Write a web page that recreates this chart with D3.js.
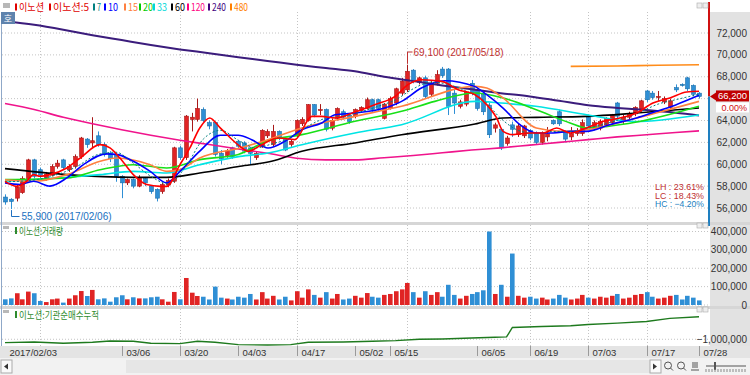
<!DOCTYPE html>
<html>
<head>
<meta charset="utf-8">
<script src="https://cdnjs.cloudflare.com/ajax/libs/d3/7.8.5/d3.min.js"></script>
<style>
  body { margin: 0; background: #fff; }
  svg { display: block; }
  text { font-family: "Liberation Sans", Arial, sans-serif; }
  .kr { font-family: "Noto Sans CJK KR", sans-serif; }
</style>
</head>
<body>
<div id="chart"></div>
<script>
// trading days (2017)
const dates = [
  "02/03","02/06","02/07","02/08","02/09","02/10","02/13","02/14","02/15","02/16","02/17","02/20","02/21","02/22","02/23","02/24","02/27","02/28",
  "03/02","03/03","03/06","03/07","03/08","03/09","03/10","03/13","03/14","03/15","03/16","03/17","03/20","03/21","03/22","03/23","03/24","03/27","03/28","03/29","03/30","03/31",
  "04/03","04/04","04/05","04/06","04/07","04/10","04/11","04/12","04/13","04/14","04/17","04/18","04/19","04/20","04/21","04/24","04/25","04/26","04/27","04/28",
  "05/02","05/04","05/08","05/10","05/11","05/12","05/15","05/16","05/17","05/18","05/19","05/22","05/23","05/24","05/25","05/26","05/29","05/30","05/31",
  "06/01","06/02","06/05","06/07","06/08","06/09","06/12","06/13","06/14","06/15","06/16","06/19","06/20","06/21","06/22","06/23","06/26","06/27","06/28","06/29","06/30",
  "07/03","07/04","07/05","07/06","07/07","07/10","07/11","07/12","07/13","07/14","07/17","07/18","07/19","07/20","07/21","07/24","07/25","07/26","07/27","07/28"
];

// OHLC
const opens = [57000,56800,56900,57400,58500,60400,59500,58700,59000,59800,60400,59500,59800,60700,62300,61950,62600,61800,61000,60900,
  58900,58300,58600,58000,58700,58000,57700,57500,58100,58450,61500,60600,64100,64100,65000,63800,63800,61000,60800,61500,
  62100,61950,61500,60600,61600,62600,61800,63000,62300,61800,62600,63700,64000,65450,64900,65000,63300,64200,64800,64500,
  64400,64900,65100,65900,65900,64200,65100,65600,66500,66800,68600,67500,67900,66400,67400,68700,68700,66500,65300,65500,
  67400,66800,66400,65400,63300,63200,61900,63600,62700,62600,63100,62800,62000,62500,64000,64800,63000,62500,62800,62800,
  64300,63300,63300,63600,63800,65600,63900,64300,64600,65000,66700,66500,66100,65700,65200,67000,67300,67900,67200,66500];
const highs = [57250,56900,58100,58900,60500,60500,59700,59300,60000,60400,60500,60000,60900,62500,62400,64300,63000,62000,61200,61000,
  59000,58700,58700,59000,58800,58100,57800,58300,58700,61600,61700,64500,64700,66000,65200,64000,63900,61300,61400,61600,
  62200,62100,61600,61200,63200,63200,63600,63100,62400,62300,64100,64300,65500,65500,65500,65100,64200,65200,65000,64600,
  65100,65300,66100,66000,66000,65600,66200,67000,67900,69100,68700,68000,68100,67600,68600,68900,68800,66800,65900,66700,
  67700,67000,66500,65600,63800,63300,62600,63900,63700,63600,63200,63000,63000,63400,64100,65000,63100,63400,63300,64100,
  64400,64000,64100,64300,64600,65700,64500,64800,65300,65900,66800,66700,66700,66200,66000,67300,67400,68000,67300,66600];
const lows = [56300,55900,56600,57300,58300,58700,58700,58500,58900,59600,59500,59300,59600,60500,61500,61500,61600,60700,60200,58400,
  56900,58100,57800,57900,58000,57300,56600,57300,57900,58300,60400,60400,63000,63900,63800,63200,60700,60000,60600,60500,
  61400,61000,60000,60400,61500,62400,61600,62200,61200,61600,62400,63500,63900,64300,64500,63000,63100,64000,64100,63700,
  64200,64700,65000,64800,64900,64100,65000,65400,66300,66600,67400,67300,66000,66200,67200,67900,64500,64600,65100,65300,
  66300,64900,64500,62400,62900,61300,61700,62500,62500,62400,62200,61800,61800,62100,63600,63500,62000,62200,62600,62600,
  63300,63100,63100,63400,63600,64200,63700,64100,64400,64800,65700,65900,65800,65500,65000,66600,67100,66700,66200,66000];
const closes = [56550,56600,57900,58700,60400,58900,59000,59100,59800,60100,59700,59800,60700,62400,61800,62150,61800,60900,60500,58900,
  58300,58600,58000,58800,58300,57500,56900,58150,58500,61500,60600,64400,64300,65100,64000,63500,60900,60500,61200,60700,
  61650,61200,61000,61000,63100,63000,63000,62400,61300,62100,64000,64100,65450,64500,65000,63200,64000,65100,64300,63900,
  65000,65200,65900,65000,65100,65500,66000,66900,67600,68500,67600,67900,66200,67400,68200,68100,65300,65600,65700,66600,
  66500,65100,64800,62700,63600,61500,62400,63200,63500,63500,62400,62000,62800,62800,63700,63700,62300,62800,63100,63800,
  63500,63800,63900,64200,64500,64400,64300,64600,65200,65800,65900,66100,66200,66000,65800,66800,67200,66900,66400,66200];

// volume
const volumes = [31000,36000,64000,31000,73000,64000,22000,16000,31000,35000,13000,35000,53000,76000,49000,82000,31000,36000,18000,42000,
  53000,31000,42000,36000,36000,42000,45000,31000,18000,71000,31000,147000,67000,49000,45000,30000,100000,40000,35000,30000,
  45000,40000,60000,30000,70000,35000,50000,30000,45000,25000,75000,40000,85000,55000,40000,70000,35000,60000,30000,35000,
  50000,40000,65000,45000,40000,55000,60000,75000,85000,120000,70000,40000,75000,55000,70000,45000,110000,55000,35000,50000,
  60000,70000,80000,400000,60000,110000,45000,280000,50000,40000,45000,35000,40000,30000,35000,55000,40000,30000,35000,55000,
  40000,35000,45000,40000,50000,60000,35000,40000,55000,60000,70000,45000,35000,40000,50000,55000,30000,50000,40000,25000];

// moving averages: [day index, price]
const ma5 = [[0,58440],[2,57980],[3.7,58440],[4.9,59050],[6,58900],[7.7,59050],[10.6,59660],[12.9,60570],[16.3,61790],[18,61490],[19.7,60570],
  [22,59050],[24.3,58140],[26.6,57980],[27.7,57980],[30,59960],[31.7,61490],[33.4,63320],[35.1,64230],[36.9,63320],[40.3,61640],[41.7,61180],
  [44,61790],[46.9,62400],[49.7,62250],[52.6,64380],[54.3,64380],[56.6,64230],[60,64780],[63.4,65450],[66.9,66210],[69.1,67280],[71.4,67730],
  [74.9,67580],[77.7,66820],[80.6,66360],[82.6,65450],[84.3,64230],[85.4,63010],[87.1,62710],[90,62860],[92.3,62860],[94.6,63320],[96.9,62860],
  [99.7,63320],[102.6,63930],[105.4,64230],[108.3,64690],[111.1,65600],[114,66060],[116.9,66610],[119,66670]];
const ma7 = [[0,58400],[4,58500],[8,58900],[12,59700],[16,60900],[19,61100],[22,60100],[25,58900],[28,58200],[31,59800],[34,62300],[37,63100],
  [40,62200],[43,61500],[46,61900],[49,62400],[52,63500],[55,64200],[58,64400],[61,64800],[64,65300],[67,65900],[70,66900],[73,67500],[76,67300],
  [79,66700],[82,65900],[85,64200],[88,63100],[91,62800],[94,63000],[97,63000],[100,63300],[103,63700],[106,64200],[109,64800],[112,65500],[115,65900],[119,66400]];
const ma10 = [[0,58300],[2.6,58150],[4.9,58450],[7.7,58000],[10.6,58750],[13.4,59950],[17.4,60950],[19.1,60900],[22,60270],[24.9,59350],[27.7,58300],
  [30,59350],[33.4,61200],[36.9,62650],[40,62650],[42.3,62250],[45.1,61480],[48,62100],[50.9,63150],[54.3,63770],[56.6,64530],[60,64680],[65.1,65140],
  [68,65750],[71.4,66970],[75.4,67640],[80.5,67120],[82.6,66360],[85.4,65140],[88.3,63620],[91.1,62860],[94,62860],[96.9,63010],[99.7,63010],
  [103.7,63620],[108.3,64230],[111.7,64840],[115.1,65450],[119,66300]];
const ma15 = [[0,58590],[4.9,58440],[10.6,59050],[16.3,60270],[19.1,60570],[24.9,59960],[27.7,59350],[30,59510],[33.4,60570],[40.3,61490],[45.1,62250],
  [50.9,63320],[60,64380],[68,65300],[80.6,67120],[82.6,66970],[85.4,66060],[91.1,63320],[95.7,63010],[99.7,63160],[108.3,64230],[119,65750]];
const ma20 = [[0,58590],[10.6,58740],[16.3,59500],[22,59960],[27.7,59660],[33.4,60420],[40,60900],[45.1,62160],[50.9,62710],[60,63930],[68,64840],
  [73.7,65750],[80.6,66520],[85.4,66060],[91.1,64990],[96.9,63770],[99.7,63320],[108.3,63860],[119,65300]];
const ma33 = [[0,58440],[10.6,58800],[16.3,59050],[22,59350],[27.7,59200],[33.4,59960],[40.3,60720],[45.1,61030],[50.9,61790],[60,62860],[68,63620],
  [80.6,65750],[85,65600],[91,65300],[100,64500],[108,63900],[119,64500]];
const ma60 = [[0,59600],[10.6,59050],[22,58800],[27.7,58800],[33.4,59200],[40.3,59810],[45.7,60270],[50.9,61180],[60,61950],[68,62700],[80.6,63680],
  [85.4,64230],[91.1,64290],[99.7,64380],[108.3,64680],[119,65140]];
const ma120 = [[0,65550],[5,65000],[10,64300],[15,63700],[20,63150],[25,62650],[30,62200],[35,61800],[40,61400],[45,61000],[50,60550],[55,60400],
  [60,60400],[65,60600],[70,60800],[75,61050],[80,61300],[85,61500],[90,61750],[95,62000],[100,62250],[105,62500],[110,62700],[115,62900],[119,63050]];
const ma240 = [[0,73100],[5,72750],[10,72300],[15,71800],[20,71350],[25,70900],[30,70500],[35,70150],[40,69780],[45,69450],[50,69100],[55,68800],
  [60,68500],[65,68000],[70,67600],[75,67200],[80,66850],[85,66500],[90,66200],[95,65800],[100,65400],[105,65150],[110,64950],[115,64700],[119,64450]];
const ma480 = [[97,68950],[105,68980],[112,69050],[119,69100]];

// institutional net buying, cumulative
const instCum = [[0,-1100000],[5,-1080000],[10,-1120000],[15,-1090000],[18,-1050000],[22,-1060000],[25,-1120000],[30,-1130000],[33,-1060000],
  [36,-1090000],[40,-1160000],[45,-1170000],[49,-1160000],[52,-1090000],[58,-1080000],[63,-1060000],[67,-1040000],[71,-1000000],[75,-990000],
  [80,-960000],[84,-940000],[86,-930000],[87,-650000],[92,-620000],[97,-600000],[100,-560000],[105,-520000],[110,-470000],[114,-380000],[119,-330000]];

// axis labels
const priceTicks = [56000,58000,60000,62000,64000,66000,68000,70000,72000];
const volTicks = [0,100000,200000,300000,400000];
const instTicks = [-1000000];
const tickDates = ["02/03","03/06","03/20","04/03","04/17","05/02","05/15","06/05","06/19","07/03","07/17","07/28"];
const tickLabels = ["2017/02/03","03/06","03/20","04/03","04/17","05/02","05/15","06/05","06/19","07/03","07/17","07/28"];
const gridDates = ["02/13","03/20","04/17","05/18","06/19","07/03","07/17"];

const legendNames = ["이노션","이노션:5","7","10","15","20","33","60","120","240","480"];
const legendColors = ["#E00000","#E00000","#008080","#0000FF","#FF8040","#00CC00","#00D8D8","#000000","#FF0080","#400080","#FF8000"];
const legendX = [15,49,93,104,124,139,153,171,187,208,230];
const legendW = [25,36,4,10,10,10,10,10,14,14,14];

const W = 750, H = 375;
const svg = d3.select("#chart").append("svg").attr("width", W).attr("height", H);

// scales
const x = d3.scaleLinear().domain([0, dates.length - 1]).range([5, 699]);
const y = d3.scaleLinear().domain([56000, 72000]).range([208, 33]);
const yVol = d3.scaleLinear().domain([0, 400000]).range([305, 231.5]);
const yInst = d3.scaleLinear().domain([-1200000, -100000]).range([346, 309]);

const UP = "#E02424", UPS = "#A81818", DN = "#2F8FD5", DNS = "#1C6EA8";

// backgrounds
svg.append("rect").attr("width", W).attr("height", H).attr("fill", "#fff");
svg.append("rect").attr("x", 710).attr("y", 12).attr("width", 40).attr("height", 334).attr("fill", "#E2E2E2");
svg.append("rect").attr("x", 0).attr("y", 222).attr("width", W).attr("height", 3).attr("fill", "#D6D6D6");
svg.append("rect").attr("x", 0).attr("y", 306).attr("width", W).attr("height", 3).attr("fill", "#D6D6D6");
svg.append("line").attr("x1", 1.5).attr("x2", 1.5).attr("y1", 12).attr("y2", 346).attr("stroke", "#8FA8C8");

const defs = svg.append("defs");
defs.append("clipPath").attr("id", "cMain").append("rect").attr("x", 2).attr("y", 12).attr("width", 707).attr("height", 210);
defs.append("clipPath").attr("id", "cVol").append("rect").attr("x", 2).attr("y", 225).attr("width", 707).attr("height", 81);
defs.append("clipPath").attr("id", "cInst").append("rect").attr("x", 2).attr("y", 309).attr("width", 707).attr("height", 37);

// grids
const grid = svg.append("g").attr("stroke", "#C4C4C4").attr("stroke-dasharray", "1,2");
priceTicks.forEach(p => grid.append("line").attr("x1", 2).attr("x2", 709).attr("y1", y(p)).attr("y2", y(p)));
volTicks.forEach(v => grid.append("line").attr("x1", 2).attr("x2", 709).attr("y1", yVol(v)).attr("y2", yVol(v)));
instTicks.forEach(v => grid.append("line").attr("x1", 2).attr("x2", 709).attr("y1", yInst(v)).attr("y2", yInst(v)));
gridDates.forEach(d => {
  const gx = Math.round(x(dates.indexOf(d))) + 0.5;
  grid.append("line").attr("x1", gx).attr("x2", gx).attr("y1", 12).attr("y2", 222);
  grid.append("line").attr("x1", gx).attr("x2", gx).attr("y1", 225).attr("y2", 306);
  grid.append("line").attr("x1", gx).attr("x2", gx).attr("y1", 309).attr("y2", 346);
});

// candles
const main = svg.append("g").attr("clip-path", "url(#cMain)");
const idx = d3.range(dates.length);
main.selectAll("line.wick").data(idx).join("line")
  .attr("x1", i => Math.round(x(i)) + 0.5).attr("x2", i => Math.round(x(i)) + 0.5)
  .attr("y1", i => y(highs[i])).attr("y2", i => y(lows[i]))
  .attr("stroke", i => closes[i] >= opens[i] ? UPS : DN);
main.selectAll("rect.body").data(idx).join("rect")
  .attr("x", i => Math.round(x(i)) - 1.5).attr("width", 4)
  .attr("y", i => y(Math.max(opens[i], closes[i])))
  .attr("height", i => Math.max(1, Math.abs(y(opens[i]) - y(closes[i]))))
  .attr("fill", i => closes[i] >= opens[i] ? UP : DN)
  .attr("stroke", i => closes[i] >= opens[i] ? UPS : DNS).attr("stroke-width", 0.6);

// moving averages
const maList = [
  {pts: ma480, color: "#FF8C1A", w: 1.6},
  {pts: ma240, color: "#3B1C7C", w: 2},
  {pts: ma120, color: "#F0148C", w: 1.6},
  {pts: ma60, color: "#000000", w: 1.6},
  {pts: ma33, color: "#00E4E4", w: 1.6},
  {pts: ma20, color: "#18E018", w: 1.6},
  {pts: ma15, color: "#FF8040", w: 1.6},
  {pts: ma10, color: "#0000FF", w: 1.6},
  {pts: ma7, color: "#008080", w: 1, dash: "2,2"},
  {pts: ma5, color: "#FF0000", w: 1.6}
];
const maLine = d3.line().x(d => x(d[0])).y(d => y(d[1])).curve(d3.curveMonotoneX);
maList.forEach(m => {
  main.append("path").attr("d", maLine(m.pts)).attr("fill", "none")
    .attr("stroke", m.color).attr("stroke-width", m.w)
    .attr("stroke-dasharray", m.dash || null);
});

// high / low markers
const hiI = dates.indexOf("05/18"), loI = dates.indexOf("02/06");
const hx = Math.round(x(hiI)) + 0.5, lx = Math.round(x(loI)) + 0.5;
svg.append("path").attr("d", `M${hx},${y(highs[hiI]) - 1}V52H${hx + 5}`).attr("fill", "none").attr("stroke", "#C03030");
svg.append("text").attr("x", hx + 6).attr("y", 56).attr("font-size", 10).attr("fill", "#C03030")
  .text(`${d3.format(",")(highs[hiI])} (2017/${dates[hiI]})`);
svg.append("path").attr("d", `M${lx},${y(lows[loI]) + 1}V216.5H${lx + 8}`).attr("fill", "none").attr("stroke", "#2070C0");
svg.append("text").attr("x", lx + 10).attr("y", 220).attr("font-size", 10).attr("fill", "#2070C0")
  .text(`${d3.format(",")(lows[loI])} (2017/${dates[loI]})`);

// LH / LC / HC
const maxH = d3.max(highs), minL = d3.min(lows), last = closes[closes.length - 1];
const pct = v => d3.format(".2f")(v * 100) + "%";
[["LH : " + pct(maxH / minL - 1), "#C03030", 190],
 ["LC : " + pct(last / minL - 1), "#C03030", 198.5],
 ["HC : " + pct(last / maxH - 1), "#2080C0", 207]].forEach(r => {
  svg.append("text").attr("x", 655).attr("y", r[2]).attr("font-size", 9).attr("fill", r[1])
    .attr("textLength", 49).attr("lengthAdjust", "spacingAndGlyphs").text(r[0]);
});

// volume bars
const vol = svg.append("g").attr("clip-path", "url(#cVol)");
vol.selectAll("rect").data(idx).join("rect")
  .attr("x", i => Math.round(x(i)) - 2).attr("width", 4.6)
  .attr("y", i => yVol(volumes[i])).attr("height", i => yVol(0) - yVol(volumes[i]))
  .attr("fill", i => closes[i] >= opens[i] ? UP : DN);

// institutional cumulative line
const inst = svg.append("g").attr("clip-path", "url(#cInst)");
inst.append("path").attr("d", d3.line().x(d => x(d[0])).y(d => yInst(d[1]))(instCum))
  .attr("fill", "none").attr("stroke", "#1E7A1E").attr("stroke-width", 1.4);

// right axes (the price tag hides the label it covers)
const fmt = d3.format(",");
const ly = y(closes[closes.length - 1]);
priceTicks.filter(p => Math.abs(y(p) - ly) > 12).forEach(p => svg.append("text").attr("x", 747).attr("y", y(p) + 3.5).attr("text-anchor", "end")
  .attr("font-size", 10).attr("fill", "#333").text(fmt(p)));
volTicks.forEach(v => svg.append("text").attr("x", 747).attr("y", yVol(v) + 3.5).attr("text-anchor", "end")
  .attr("font-size", 10).attr("fill", "#333").text(fmt(v)));
instTicks.forEach(v => svg.append("text").attr("x", 747).attr("y", yInst(v) + 3.5).attr("text-anchor", "end")
  .attr("font-size", 10).attr("fill", "#333").text(fmt(v)));

// right edge line, red above last price, blue below
svg.append("line").attr("x1", 709).attr("x2", 709).attr("y1", 2).attr("y2", ly).attr("stroke", "#D01010").attr("stroke-width", 2);
svg.append("line").attr("x1", 709).attr("x2", 709).attr("y1", ly).attr("y2", 226).attr("stroke", "#1E7FC0").attr("stroke-width", 2);
svg.append("path").attr("d", `M710,${ly}L716,${ly - 4}L716,${ly + 4}Z`).attr("fill", "#C00000");
svg.append("rect").attr("x", 716).attr("y", ly - 6).attr("width", 33).attr("height", 11).attr("fill", "#C00000");
svg.append("text").attr("x", 747).attr("y", ly + 3).attr("text-anchor", "end").attr("font-size", 9.5).attr("fill", "#fff").text(fmt(last));
svg.append("rect").attr("x", 716).attr("y", ly + 6).attr("width", 33).attr("height", 10).attr("fill", "#fff");
svg.append("text").attr("x", 747).attr("y", ly + 14.5).attr("text-anchor", "end").attr("font-size", 9).attr("fill", "#D01010").text("0.00%");

// legend
svg.append("rect").attr("x", 3).attr("y", 3).attr("width", 7).attr("height", 5).attr("fill", "#B8B8B8");
legendNames.forEach((n, k) => {
  svg.append("rect").attr("x", legendX[k]).attr("y", 3.5).attr("width", 2).attr("height", 7).attr("fill", legendColors[k]);
  svg.append("text").attr("class", "kr").attr("x", legendX[k] + 4).attr("y", 11).attr("font-size", 10)
    .attr("textLength", legendW[k]).attr("lengthAdjust", "spacingAndGlyphs")
    .attr("fill", legendColors[k]).text(n);
});
svg.append("rect").attr("x", 1).attr("y", 12).attr("width", 14).attr("height", 12).attr("fill", "#5F83AD");
svg.append("text").attr("class", "kr").attr("x", 8).attr("y", 21.5).attr("text-anchor", "middle").attr("font-size", 9).attr("fill", "#fff").text("호");

// panel titles
[["이노션:거래량", 225, 44], ["이노션:기관순매수누적", 309, 80]].forEach(t => {
  svg.append("rect").attr("x", 3).attr("y", t[1] + 1).attr("width", 6).attr("height", 3).attr("fill", "#B8B8B8");
  svg.append("rect").attr("x", 15).attr("y", t[1] + 2).attr("width", 2).attr("height", 7).attr("fill", "#2E8B2E");
  svg.append("text").attr("class", "kr").attr("x", 19).attr("y", t[1] + 9.5).attr("font-size", 10.5)
    .attr("textLength", t[2]).attr("lengthAdjust", "spacingAndGlyphs").attr("fill", "#2E8B2E").text(t[0]);
});

// small window buttons
[3, 223, 307].forEach(by => {
  [697, 703].forEach(bx => svg.append("rect").attr("x", bx).attr("y", by).attr("width", 5).attr("height", 5)
    .attr("fill", "#EEE").attr("stroke", "#AAA").attr("stroke-width", 0.6));
});

// date axis band
svg.append("rect").attr("x", 0).attr("y", 346).attr("width", W).attr("height", 12).attr("fill", "#E4E4E4");
tickDates.forEach((d, k) => {
  const tx = Math.round(x(dates.indexOf(d))) + 0.5;
  if (k > 0) svg.append("line").attr("x1", tx).attr("x2", tx).attr("y1", 346).attr("y2", 356).attr("stroke", "#9A9A9A");
  svg.append("text").attr("x", tx + 4).attr("y", 356).attr("font-size", 9.5).attr("fill", "#333").text(tickLabels[k]);
});

// scrollbar
svg.append("rect").attr("x", 0).attr("y", 358).attr("width", W).attr("height", 17).attr("fill", "#F2F2F2");
svg.append("rect").attr("x", 1).attr("y", 360).attr("width", 11).attr("height", 13).attr("fill", "#FAFAFA").attr("stroke", "#AAA");
svg.append("path").attr("d", "M4,366.5L8,363.5L8,369.5Z").attr("fill", "#333");
svg.append("rect").attr("x", 126).attr("y", 360).attr("width", 524).attr("height", 13).attr("fill", "#E6E6E6");
svg.append("rect").attr("x", 650).attr("y", 360).attr("width", 11).attr("height", 13).attr("fill", "#FAFAFA").attr("stroke", "#AAA");
svg.append("path").attr("d", "M657,366.5L653,363.5L653,369.5Z").attr("fill", "#333");
[668, 681].forEach(cx => {
  svg.append("circle").attr("cx", cx).attr("cy", 365.5).attr("r", 3.5).attr("fill", "none").attr("stroke", "#555");
  svg.append("line").attr("x1", cx + 2.5).attr("x2", cx + 5).attr("y1", 368).attr("y2", 370.5).attr("stroke", "#555");
});
svg.append("path").attr("d", "M693,362v6M695,362v6M697,362v6M691,370h8").attr("stroke", "#555").attr("fill", "none");
svg.append("line").attr("x1", 706).attr("x2", 746).attr("y1", 366).attr("y2", 366).attr("stroke", "#555");
svg.append("rect").attr("x", 714).attr("y", 362).attr("width", 2).attr("height", 8).attr("fill", "#555");
svg.append("path").attr("d", d3.range(706, 747, 3).map(v => `M${v},369v3`).join("")).attr("stroke", "#888");
</script>
</body>
</html>
